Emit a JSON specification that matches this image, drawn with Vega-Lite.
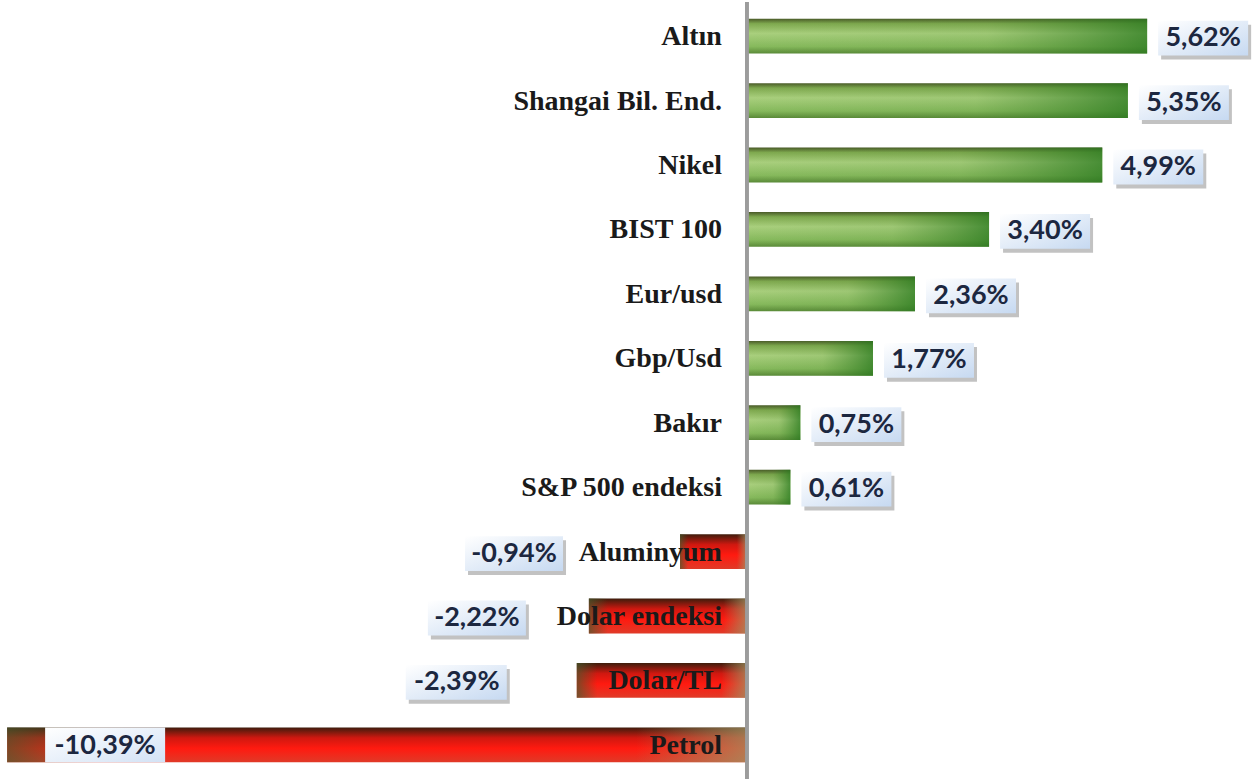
{
  "$schema": "https://vega.github.io/schema/vega-lite/v6.json",
  "width": 1258,
  "height": 781,
  "autosize": {"type": "fit", "contains": "padding"},
  "padding": 0,
  "background": "#ffffff",
  "config": {"view": {"stroke": null}},
  "data": {
    "values": [
      {"name": "Altın", "value": 5.62, "label": "5,62%"},
      {"name": "Shangai Bil. End.", "value": 5.35, "label": "5,35%"},
      {"name": "Nikel", "value": 4.99, "label": "4,99%"},
      {"name": "BIST 100", "value": 3.40, "label": "3,40%"},
      {"name": "Eur/usd", "value": 2.36, "label": "2,36%"},
      {"name": "Gbp/Usd", "value": 1.77, "label": "1,77%"},
      {"name": "Bakır", "value": 0.75, "label": "0,75%"},
      {"name": "S&P 500 endeksi", "value": 0.61, "label": "0,61%"},
      {"name": "Aluminyum", "value": -0.94, "label": "-0,94%"},
      {"name": "Dolar endeksi", "value": -2.22, "label": "-2,22%"},
      {"name": "Dolar/TL", "value": -2.39, "label": "-2,39%"},
      {"name": "Petrol", "value": -10.39, "label": "-10,39%"}
    ]
  },
  "layer": [
    {
      "transform": [{"filter": "datum.value > 0"}],
      "mark": {"type": "bar", "color": {"gradient": "linear", "x1": 0, "y1": 0, "x2": 0, "y2": 1, "stops": [
        {"offset": 0, "color": "#4a5a28"},
        {"offset": 0.14, "color": "#7fa94f"},
        {"offset": 0.42, "color": "#a9cf7d"},
        {"offset": 0.8, "color": "#86b95c"},
        {"offset": 1, "color": "#5a8a38"}]}},
      "encoding": {
        "y": {"field": "name", "type": "nominal", "sort": null, "axis": null, "scale": {"paddingInner": 0.46, "paddingOuter": 0.26}},
        "x": {"field": "value", "type": "quantitative", "axis": null, "scale": {"domain": [-10.49, 7.177], "nice": false, "zero": false}}
      }
    },
    {
      "transform": [{"filter": "datum.value > 0"}],
      "mark": {"type": "bar", "color": {"gradient": "linear", "x1": 0, "y1": 0, "x2": 1, "y2": 0, "stops": [
        {"offset": 0, "color": "rgba(60,130,40,0)"},
        {"offset": 0.6, "color": "rgba(60,130,40,0.1)"},
        {"offset": 1, "color": "rgba(40,120,30,0.75)"}]}},
      "encoding": {
        "y": {"field": "name", "type": "nominal", "sort": null},
        "x": {"field": "value", "type": "quantitative"}
      }
    },
    {
      "transform": [{"filter": "datum.value < 0"}],
      "mark": {"type": "bar", "color": {"gradient": "linear", "x1": 0, "y1": 0, "x2": 0, "y2": 1, "stops": [
        {"offset": 0, "color": "#3d1c0c"},
        {"offset": 0.3, "color": "#d01810"},
        {"offset": 0.6, "color": "#ff1a10"},
        {"offset": 1, "color": "#e03a28"}]}},
      "encoding": {
        "y": {"field": "name", "type": "nominal", "sort": null},
        "x": {"field": "value", "type": "quantitative"}
      }
    },
    {
      "transform": [{"filter": "datum.value < 0"}],
      "mark": {"type": "bar", "color": {"gradient": "linear", "x1": 0, "y1": 0, "x2": 1, "y2": 0, "stops": [
        {"offset": 0, "color": "rgba(70,90,45,0.7)"},
        {"offset": 0.12, "color": "rgba(70,90,45,0)"},
        {"offset": 0.85, "color": "rgba(160,150,100,0)"},
        {"offset": 1, "color": "rgba(160,150,100,0.75)"}]}},
      "encoding": {
        "y": {"field": "name", "type": "nominal", "sort": null},
        "x": {"field": "value", "type": "quantitative"}
      }
    },
    {
      "mark": {"type": "rule", "color": "#9c9c9c", "strokeWidth": 2.5},
      "encoding": {"x": {"datum": 0}}
    },
    {
      "mark": {"type": "text", "align": "right", "baseline": "middle", "xOffset": -25, "dy": 1, "font": "Liberation Serif", "fontWeight": "bold", "fontSize": 28, "color": "#1a1a1a"},
      "encoding": {
        "y": {"field": "name", "type": "nominal", "sort": null},
        "x": {"datum": 0},
        "text": {"field": "name"}
      }
    },
    {
      "transform": [{"filter": "datum.value > 0"}],
      "layer": [
        {"mark": {"type": "rect", "color": "#8f8f8f", "opacity": 0.55, "xOffset": 14, "x2Offset": 104, "yOffset": 6, "y2Offset": 6}},
        {"mark": {"type": "rect", "color": {"gradient": "linear", "x1": 0, "y1": 0, "x2": 1, "y2": 1, "stops": [{"offset": 0, "color": "#ffffff"}, {"offset": 1, "color": "#c6d9f1"}]}, "xOffset": 11, "x2Offset": 101, "yOffset": 2, "y2Offset": 2}},
        {"mark": {"type": "text", "align": "center", "baseline": "middle", "xOffset": 56, "dy": 2, "font": "Lato", "fontWeight": "bold", "fontSize": 27, "color": "#1c2740"}, "encoding": {"text": {"field": "label"}}}
      ],
      "encoding": {
        "y": {"field": "name", "type": "nominal", "sort": null},
        "x": {"field": "value", "type": "quantitative"},
        "x2": {"field": "value"}
      }
    },
    {
      "transform": [{"filter": "datum.name == 'Aluminyum'"}],
      "layer": [
        {"mark": {"type": "rect", "color": "#8f8f8f", "opacity": 0.55, "xOffset": -212, "x2Offset": -114, "yOffset": 6, "y2Offset": 6}},
        {"mark": {"type": "rect", "color": {"gradient": "linear", "x1": 0, "y1": 0, "x2": 1, "y2": 1, "stops": [{"offset": 0, "color": "#ffffff"}, {"offset": 1, "color": "#c6d9f1"}]}, "xOffset": -215, "x2Offset": -117, "yOffset": 2, "y2Offset": 2}},
        {"mark": {"type": "text", "align": "center", "baseline": "middle", "xOffset": -166, "dy": 2, "font": "Lato", "fontWeight": "bold", "fontSize": 27, "color": "#1c2740"}, "encoding": {"text": {"field": "label"}}}
      ],
      "encoding": {
        "y": {"field": "name", "type": "nominal", "sort": null},
        "x": {"field": "value", "type": "quantitative"},
        "x2": {"field": "value"}
      }
    },
    {
      "transform": [{"filter": "datum.name == 'Dolar endeksi'"}],
      "layer": [
        {"mark": {"type": "rect", "color": "#8f8f8f", "opacity": 0.55, "xOffset": -158, "x2Offset": -60, "yOffset": 6, "y2Offset": 6}},
        {"mark": {"type": "rect", "color": {"gradient": "linear", "x1": 0, "y1": 0, "x2": 1, "y2": 1, "stops": [{"offset": 0, "color": "#ffffff"}, {"offset": 1, "color": "#c6d9f1"}]}, "xOffset": -161, "x2Offset": -63, "yOffset": 2, "y2Offset": 2}},
        {"mark": {"type": "text", "align": "center", "baseline": "middle", "xOffset": -112, "dy": 2, "font": "Lato", "fontWeight": "bold", "fontSize": 27, "color": "#1c2740"}, "encoding": {"text": {"field": "label"}}}
      ],
      "encoding": {
        "y": {"field": "name", "type": "nominal", "sort": null},
        "x": {"field": "value", "type": "quantitative"},
        "x2": {"field": "value"}
      }
    },
    {
      "transform": [{"filter": "datum.name == 'Dolar/TL'"}],
      "layer": [
        {"mark": {"type": "rect", "color": "#8f8f8f", "opacity": 0.55, "xOffset": -168, "x2Offset": -67, "yOffset": 6, "y2Offset": 6}},
        {"mark": {"type": "rect", "color": {"gradient": "linear", "x1": 0, "y1": 0, "x2": 1, "y2": 1, "stops": [{"offset": 0, "color": "#ffffff"}, {"offset": 1, "color": "#c6d9f1"}]}, "xOffset": -171, "x2Offset": -70, "yOffset": 2, "y2Offset": 2}},
        {"mark": {"type": "text", "align": "center", "baseline": "middle", "xOffset": -120, "dy": 2, "font": "Lato", "fontWeight": "bold", "fontSize": 27, "color": "#1c2740"}, "encoding": {"text": {"field": "label"}}}
      ],
      "encoding": {
        "y": {"field": "name", "type": "nominal", "sort": null},
        "x": {"field": "value", "type": "quantitative"},
        "x2": {"field": "value"}
      }
    },
    {
      "transform": [{"filter": "datum.name == 'Petrol'"}],
      "layer": [
        {"mark": {"type": "rect", "color": {"gradient": "linear", "x1": 0, "y1": 0, "x2": 1, "y2": 1, "stops": [{"offset": 0, "color": "#ffffff"}, {"offset": 1, "color": "#d3e2f5"}]}, "xOffset": 38, "x2Offset": 158}},
        {"mark": {"type": "text", "align": "center", "baseline": "middle", "xOffset": 98, "dy": 1, "font": "Lato", "fontWeight": "bold", "fontSize": 27, "color": "#1c2740"}, "encoding": {"text": {"field": "label"}}}
      ],
      "encoding": {
        "y": {"field": "name", "type": "nominal", "sort": null},
        "x": {"field": "value", "type": "quantitative"},
        "x2": {"field": "value"}
      }
    }
  ]
}
